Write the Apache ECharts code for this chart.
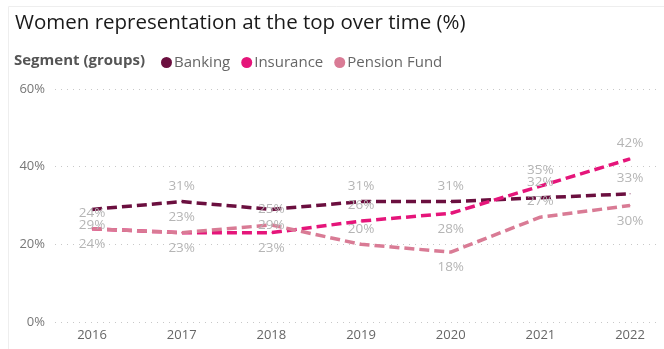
<!DOCTYPE html>
<html>
<head>
<meta charset="utf-8">
<script src="https://cdn.jsdelivr.net/npm/echarts@6/dist/echarts.min.js"></script>
<style>html,body{margin:0;padding:0;background:#fff}#c{width:664px;height:349px}</style>
</head>
<body>
<div id="c"></div>
<script>
var years = [2016, 2017, 2018, 2019, 2020, 2021, 2022];
var banking = [29, 31, 29, 31, 31, 32, 33];
var insurance = [24, 23, 23, 26, 28, 35, 42];
var pension = [24, 23, 25, 20, 18, 27, 30];
var yTicks = [0, 20, 40, 60];

// label placement (style only): 't' = above, 'b' = below, 'T' = far above
var bankingLbl = ['b', 't', 'b', 't', 't', 't', 't'];
var insuranceLbl = ['b', 't', 'b', 't', 'b', 't', 't'];
var pensionLbl = ['T', 'b', 'T', 't', 'b', 't', 'b'];

var FONT = '"Open Sans", "Noto Sans", sans-serif';

function buildData(vals, lbl) {
  return vals.map(function (v, i) {
    var p = lbl[i];
    var label = {show: true, position: p === 'b' ? 'bottom' : 'top'};
    if (p === 'T') label.offset = [0, -14];
    return {value: [years[i], v], label: label};
  });
}

function mkSeries(name, color, vals, lbl) {
  return {
    name: name,
    type: 'line',
    data: buildData(vals, lbl),
    symbol: 'circle',
    symbolSize: 1,
    showSymbol: true,
    showAllSymbol: true,
    lineStyle: {color: color, width: 3.5, type: [10, 5], cap: 'butt', join: 'round'},
    itemStyle: {color: color},
    label: {
      show: true,
      distance: 8,
      color: '#b5b5b5',
      fontSize: 13.5,
      fontFamily: FONT,
      formatter: function (p) { return p.value[1] + '%'; }
    },
    labelLayout: {hideOverlap: false},
    emphasis: {disabled: true}
  };
}

var chart = echarts.init(document.getElementById('c'));
chart.setOption({
  backgroundColor: '#fff',
  animation: false,
  title: {
    text: 'Women representation at the top over time (%)',
    left: 10, top: 8,
    textStyle: {fontFamily: FONT, fontSize: 20.5, fontWeight: 'normal', color: '#1a1a1a'}
  },
  graphic: [
    {type: 'rect', shape: {x: 8.5, y: 6.5, width: 700, height: 400}, style: {fill: 'none', stroke: '#eeeeee', lineWidth: 1}, silent: true},
    {type: 'text', left: 14, top: 53, style: {text: 'Segment (groups)', font: 'bold 15px ' + FONT, fill: '#555555'}}
  ],
  legend: {
    left: 156, top: 50,
    icon: 'circle',
    itemWidth: 11, itemHeight: 11, itemGap: 11,
    textStyle: {fontFamily: FONT, fontSize: 15, color: '#666666', padding: [0, 0, 0, -3]},
    data: ['Banking', 'Insurance', 'Pension Fund']
  },
  grid: {left: 55, right: 4, top: 89, bottom: 27, containLabel: false},
  xAxis: {
    type: 'value',
    min: 2015.587, max: 2022.334,
    axisLine: {show: false},
    axisTick: {show: false},
    splitLine: {show: false},
    axisLabel: {
      customValues: years,
      color: '#666666', fontSize: 13, fontFamily: FONT, margin: 7,
      formatter: function (v) { return String(v); }
    }
  },
  yAxis: {
    type: 'value',
    min: 0, max: 60, interval: 20,
    axisLine: {show: false},
    axisTick: {show: false},
    axisLabel: {
      customValues: yTicks,
      color: '#777777', fontSize: 13, fontFamily: FONT, margin: 10,
      formatter: '{value}%'
    },
    splitLine: {lineStyle: {color: '#c8c8c8', type: [1, 5], width: 1}}
  },
  series: [
    mkSeries('Banking', '#6b0f3f', banking, bankingLbl),
    mkSeries('Insurance', '#e5157a', insurance, insuranceLbl),
    mkSeries('Pension Fund', '#d97b95', pension, pensionLbl)
  ]
});
</script>
</body>
</html>
